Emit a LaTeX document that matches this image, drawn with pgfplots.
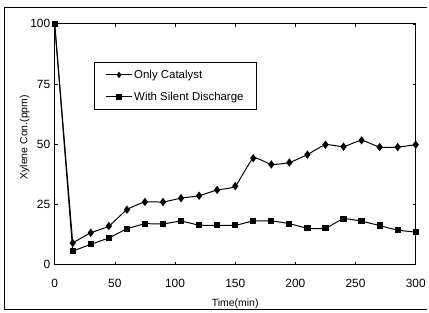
\documentclass[border=0pt]{standalone}
\usepackage{pgfplots}
\pgfplotsset{compat=1.18}
\usepackage{fontspec}
\setmainfont{Liberation Sans}
\begin{document}
\begin{tikzpicture}
\begin{axis}[
  at={(0pt,0pt)}, anchor=origin,
  scale only axis, width=363pt, height=242pt,
  xmin=0, xmax=300, ymin=0, ymax=100,
  xtick={0,50,...,300}, ytick={0,25,50,75,100},
  axis line style={line width=0.9pt},
  tick style={black, line width=0.6pt}, major tick length=3pt,
  tick label style={font=\fontsize{12}{14}\selectfont},
  xticklabel style={yshift=-11pt},
  yticklabel style={xshift=-1pt},
  /pgf/number format/assume math mode=true,
  xlabel={Time(min)}, ylabel={Xylene Con.(ppm)},
  label style={font=\fontsize{10.5}{12}\selectfont},
  xlabel style={yshift=-5pt},
  ylabel style={yshift=-6pt, xshift=7pt},
  legend style={at={(0.11,0.843)}, anchor=north west, draw=black, line width=0.8pt,
    font=\fontsize{11.5}{13}\selectfont, inner xsep=11pt, inner ysep=6pt, row sep=8pt},
  legend cell align=left,
  legend image code/.code={\draw[mark repeat=2,mark phase=2,#1,mark size=2.4pt] plot coordinates {(0cm,0cm) (0.45cm,0cm) (0.9cm,0cm)};},
]
\addplot[black, line width=1pt, forget plot] coordinates {(0,100) (15,9)};
\addplot[black, line width=1pt, smooth, tension=0.3, mark=diamond*, mark size=3.4pt, mark options={solid}] coordinates {
(15,9) (30,13.2) (45,16) (60,22.8) (75,26) (90,26) (105,27.6) (120,28.6) (135,31) (150,32.6)
(165,44.2) (180,41.6) (195,42.4) (210,45.7) (225,49.8) (240,49) (255,51.6) (270,48.8) (285,48.8) (300,49.8)};
\addlegendentry{Only Catalyst}
\addplot[black, line width=1pt, forget plot] coordinates {(0,100) (15,5.6)};
\addplot[black, line width=1pt, smooth, tension=0.3, mark=square*, mark size=2.6pt, mark options={solid}] coordinates {
(15,5.6) (30,8.4) (45,11.1) (60,14.8) (75,16.9) (90,16.9) (105,18) (120,16.4) (135,16.3) (150,16.3)
(165,18.1) (180,18.1) (195,17) (210,15.1) (225,15.1) (240,19) (255,18) (270,16.2) (285,14.3) (300,13.5)};
\addlegendentry{With Silent Discharge}
\addplot[black, only marks, mark=square*, mark size=2.6pt, forget plot] coordinates {(0,100)};
\end{axis}
\draw[line width=1pt] (374pt,258pt) -- (-50pt,258pt) -- (-50pt,-45pt) -- (374pt,-45pt);
\useasboundingbox (-55pt,-46pt) rectangle (374pt,266pt);
\end{tikzpicture}
\end{document}
